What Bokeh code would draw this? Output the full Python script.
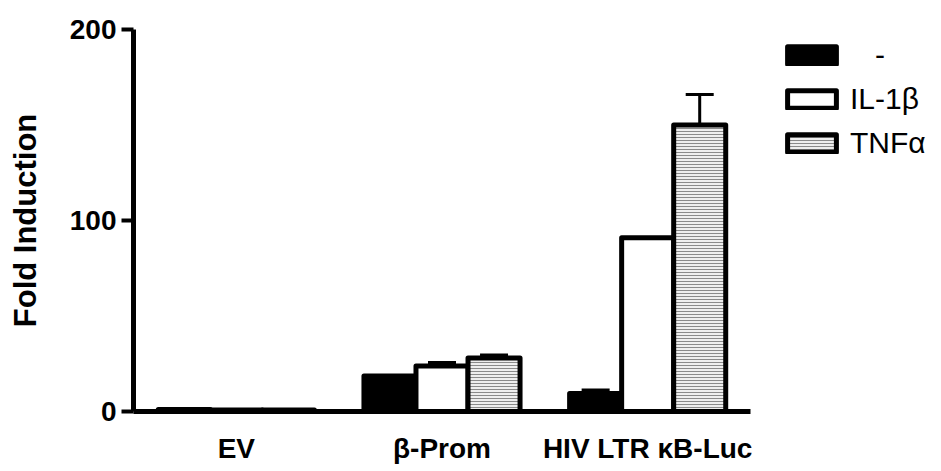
from bokeh.plotting import figure
from bokeh.layouts import row
from bokeh.models import (ColumnDataSource, FactorRange, Range1d, Whisker, TeeHead,
                          Legend, LegendItem, FixedTicker)
from bokeh.transform import dodge
from bokeh.embed import file_html
from bokeh.resources import INLINE

categories = ["EV", "β-Prom", "HIV LTR κB-Luc"]
treatments = ["\u00a0\u00a0\u00a0-", "IL-1β", "TNFα"]
none_vals = [1.0, 18.6, 9.4]
none_err = [0.0, 0.0, 1.9]
il1b_vals = [0.8, 23.8, 91.0]
il1b_err = [0.0, 1.8, 0.0]
tnfa_vals = [0.8, 28.0, 150.0]
tnfa_err = [0.0, 1.6, 16.0]

FONT = "Liberation Sans"

p = figure(x_range=FactorRange(*categories, range_padding=0),
           y_range=Range1d(0, 200),
           width=752, height=468, output_backend="svg", toolbar_location=None,
           min_border_left=133, min_border_right=2, min_border_top=29,
           min_border_bottom=57)

# separate narrow figure that only carries the legend (to the right of the axes)
pl = figure(width=186, height=468, output_backend="svg", toolbar_location=None,
            x_range=Range1d(0, 1), y_range=Range1d(0, 1),
            min_border_left=20, min_border_top=29, min_border_right=0,
            min_border_bottom=57)
pl.axis.visible = False
pl.grid.visible = False
pl.outline_line_color = None

bw = 0.253
offsets = [-bw, 0.0, bw]
series = [none_vals, il1b_vals, tnfa_vals]
errs = [none_err, il1b_err, tnfa_err]
styles = [
    dict(fill_color="black"),
    dict(fill_color="white"),
    dict(fill_color="#eeeeee", hatch_pattern="horizontal_line", hatch_color="#8a8a8a",
         hatch_scale=3, hatch_weight=1),
]

items = []
for name, vals, err, off, st in zip(treatments, series, errs, offsets, styles):
    src = ColumnDataSource(dict(x=categories, top=vals))
    p.vbar(x=dodge("x", off, range=p.x_range), top="top", width=bw, source=src,
           line_color="black", line_width=5, line_join="round", **st)
    # hidden swatch renderer with identical styling, used only by the legend
    lr = pl.vbar(x=[0.5], top=[0.5], width=0.1, visible=False,
                 line_color="black", line_width=5, line_join="round", **st)
    items.append(LegendItem(label=name, renderers=[lr]))
    ex = [c for c, e in zip(categories, err) if e > 0]
    elo = [v for v, e in zip(vals, err) if e > 0]
    ehi = [v + e for v, e in zip(vals, err) if e > 0]
    esrc = ColumnDataSource(dict(x=ex, lower=elo, upper=ehi))
    w = Whisker(base=dodge("x", off, range=p.x_range), lower="lower", upper="upper",
                source=esrc, line_width=3, line_color="black",
                upper_head=TeeHead(size=28, line_width=3, line_color="black"),
                lower_head=None)
    p.add_layout(w)

legend = Legend(items=items, location="top_left", padding=0, margin=9,
                border_line_color=None, background_fill_alpha=0,
                glyph_width=61, glyph_height=22, label_height=22, spacing=10,
                label_standoff=8, label_text_font=FONT, label_text_font_size="30px",
                label_text_color="black", click_policy="none")
pl.add_layout(legend, "center")

p.xgrid.visible = False
p.ygrid.visible = False
p.outline_line_color = None

p.yaxis.ticker = FixedTicker(ticks=[0, 100, 200])
p.yaxis.axis_line_width = 5
p.yaxis.major_tick_line_width = 4
p.yaxis.major_tick_out = 12
p.yaxis.major_tick_in = 0
p.yaxis.minor_tick_line_color = None
p.yaxis.major_label_standoff = 5
p.yaxis.major_label_text_font = FONT
p.yaxis.major_label_text_font_style = "bold"
p.yaxis.major_label_text_font_size = "28px"
p.yaxis.major_label_text_color = "black"
p.yaxis.axis_label = "Fold Induction"
p.yaxis.axis_label_text_font = FONT
p.yaxis.axis_label_text_font_style = "bold"
p.yaxis.axis_label_text_font_size = "31px"
p.yaxis.axis_label_text_color = "black"
p.yaxis.axis_label_standoff = 24

p.xaxis.axis_line_width = 5
p.xaxis.major_tick_line_color = None
p.xaxis.minor_tick_line_color = None
p.xaxis.major_label_standoff = 15
p.xaxis.major_label_text_font = FONT
p.xaxis.major_label_text_font_style = "bold"
p.xaxis.major_label_text_font_size = "28px"
p.xaxis.major_label_text_color = "black"

layout = row(p, pl)
open("out.html", "w").write(file_html(layout, INLINE))
